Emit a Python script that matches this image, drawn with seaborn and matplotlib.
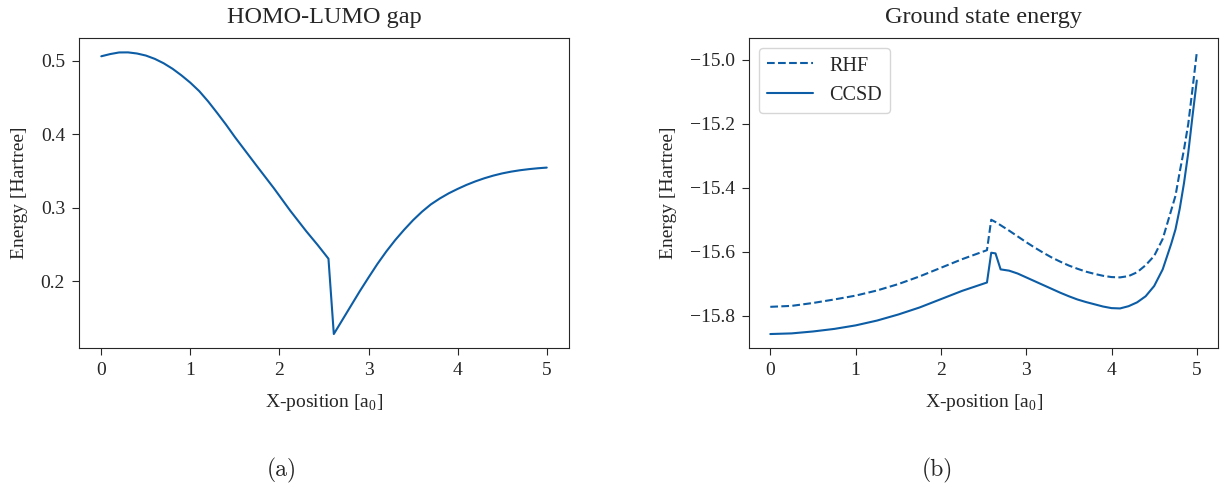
import matplotlib
matplotlib.use("Agg")
import matplotlib.pyplot as plt
import seaborn as sns
import pandas as pd

# HOMO-LUMO gap vs position
x_gap = [0.0, 0.1, 0.2, 0.3, 0.4, 0.5, 0.6, 0.7, 0.8, 0.9, 1.0, 1.1, 1.2, 1.3, 1.4, 1.5, 1.6,
         1.75, 1.94, 2.12, 2.3, 2.43, 2.55, 2.61, 2.7, 2.8, 2.9, 3.0, 3.1, 3.2, 3.3, 3.4, 3.5,
         3.6, 3.7, 3.8, 3.9, 4.0, 4.1, 4.2, 4.3, 4.4, 4.5, 4.6, 4.7, 4.8, 4.9, 5.0]
gap = [0.506, 0.509, 0.5112, 0.5113, 0.5098, 0.507, 0.5025, 0.4965, 0.489, 0.480, 0.470, 0.4585,
       0.4445, 0.429, 0.413, 0.396, 0.380, 0.356, 0.326, 0.296, 0.268, 0.249, 0.2305, 0.128,
       0.146, 0.166, 0.186, 0.205, 0.2235, 0.2405, 0.256, 0.270, 0.283, 0.2945, 0.3045, 0.3125,
       0.3195, 0.3255, 0.331, 0.3358, 0.340, 0.3436, 0.3466, 0.349, 0.3509, 0.3524, 0.3536, 0.3545]

# Ground state energies
x_energy = [0.0, 0.25, 0.5, 0.75, 1.0, 1.25, 1.5, 1.75, 2.0, 2.25, 2.54, 2.59, 2.64, 2.70, 2.8,
            2.9, 3.0, 3.1, 3.2, 3.3, 3.4, 3.5, 3.6, 3.7, 3.8, 3.9, 4.0, 4.1, 4.2, 4.3, 4.4, 4.5,
            4.6, 4.7, 4.75, 4.8, 4.85, 4.9, 4.95, 5.0]
rhf = [-15.772, -15.769, -15.760, -15.749, -15.737, -15.721, -15.701, -15.677, -15.650, -15.623,
       -15.595, -15.500, -15.507, -15.517, -15.534, -15.552, -15.570, -15.587, -15.603, -15.618,
       -15.631, -15.643, -15.653, -15.662, -15.669, -15.675, -15.679, -15.680, -15.676, -15.664,
       -15.642, -15.613, -15.560, -15.470, -15.425, -15.350, -15.280, -15.200, -15.090, -14.977]
ccsd = [-15.857, -15.855, -15.849, -15.841, -15.830, -15.815, -15.796, -15.774, -15.748, -15.722,
        -15.696, -15.603, -15.605, -15.655, -15.659, -15.668, -15.680, -15.692, -15.704, -15.716,
        -15.728, -15.739, -15.749, -15.757, -15.764, -15.771, -15.776, -15.777, -15.770, -15.758,
        -15.739, -15.707, -15.655, -15.575, -15.530, -15.465, -15.385, -15.290, -15.175, -15.065]

color = "#0C5DA5"

sns.set_style("ticks")
plt.rcParams["font.family"] = ["Liberation Serif", "DejaVu Serif"]
plt.rcParams["mathtext.fontset"] = "custom"
plt.rcParams["mathtext.rm"] = "Liberation Serif"
plt.rcParams["font.size"] = 14
plt.rcParams["axes.edgecolor"] = "0.15"
plt.rcParams["xtick.color"] = "0.15"
plt.rcParams["ytick.color"] = "0.15"

fig = plt.figure(figsize=(12.25, 4.91), dpi=100)
ax1 = fig.add_axes([0.0645, 0.291, 0.4, 0.631])
ax2 = fig.add_axes([0.6114, 0.291, 0.383, 0.631])

df_gap = pd.DataFrame({"x": x_gap, "gap": gap})
sns.lineplot(data=df_gap, x="x", y="gap", ax=ax1, color=color, lw=1.5,
             sort=False, estimator=None)
ax1.set_title("HOMO-LUMO gap", fontsize=17.5, pad=11)

df_e = pd.DataFrame({"x": x_energy, "rhf": rhf, "ccsd": ccsd})
sns.lineplot(data=df_e, x="x", y="rhf", ax=ax2, color=color, lw=1.5, linestyle="--",
             label="RHF", sort=False, estimator=None)
sns.lineplot(data=df_e, x="x", y="ccsd", ax=ax2, color=color, lw=1.5,
             label="CCSD", sort=False, estimator=None)
ax2.set_title("Ground state energy", fontsize=17.5, pad=11)
ax2.legend(loc="upper left", fontsize=14.5, frameon=True, handlelength=2.3)

for ax in (ax1, ax2):
    ax.set_xlabel(r"X-position [a$_\mathrm{0}$]", fontsize=14, labelpad=9)
    ax.set_ylabel("Energy [Hartree]", fontsize=14, labelpad=9)
    ax.tick_params(labelsize=14, length=5, pad=5)
    ax.set_xticks([0, 1, 2, 3, 4, 5])

fig.text(0.230, 0.03, "(a)", family="cmr10", fontsize=17, ha="center")
fig.text(0.765, 0.03, "(b)", family="cmr10", fontsize=17, ha="center")

fig.savefig("out.png", dpi=100)
